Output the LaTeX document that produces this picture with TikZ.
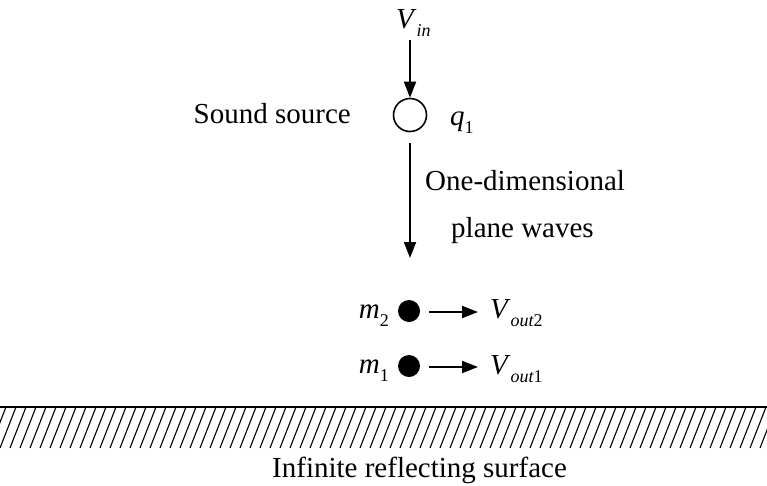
\documentclass[tikz,border=0pt]{standalone}
\usepackage{fontspec}
\setmainfont{Liberation Serif}
\usetikzlibrary{arrows.meta}
\newcommand{\subit}[1]{\raisebox{-0.28em}{\fontsize{18}{18}\selectfont\itshape #1}}
\newcommand{\subrm}[1]{\raisebox{-0.28em}{\fontsize{18}{18}\selectfont #1}}
\begin{document}
\begin{tikzpicture}[x=1pt,y=-1pt,
  lbl/.style={inner sep=0pt,font=\fontsize{29}{32}\selectfont},
  arr/.style={line width=1.8pt,-{Triangle[length=16pt,width=12pt]}},
  hatchline/.style={line width=1.1pt}]
\useasboundingbox (0,0) rectangle (767,485);
% source
\node[lbl,anchor=base west] (vin) at (396,28) {\textit{V}\subit{in}};
\node[draw,circle,line width=1.6pt,minimum size=33pt,inner sep=0pt] (src) at (410,115) {};
\node[lbl,anchor=base east] (ss) at (351,123) {Sound source};
\node[lbl,anchor=base west] (q1) at (450,125) {\textit{q}\subrm{1}};
\coordinate (vinb) at (410,40);
\draw[arr] (vinb) -- (src.north);
\coordinate (wstart) at (410,143);
\coordinate (wend) at (410,258);
\draw[arr] (wstart) -- (wend);
\node[lbl,anchor=base west] (od) at (425,190) {One-dimensional};
\node[lbl,anchor=base west] (pw) at (451,237) {plane waves};
% masses
\node[fill,circle,minimum size=22pt,inner sep=0pt] (m2dot) at (409,311) {};
\node[fill,circle,minimum size=22pt,inner sep=0pt] (m1dot) at (409,366) {};
\node[lbl,anchor=base east] (m2) at (389,318) {\textit{m}\subrm{2}};
\node[lbl,anchor=base east] (m1) at (389,373) {\textit{m}\subrm{1}};
\node[lbl,anchor=base west] (vo2) at (490,318) {\textit{V}\subit{out}\subrm{2}};
\node[lbl,anchor=base west] (vo1) at (490,374) {\textit{V}\subit{out}\subrm{1}};
\coordinate (a2s) at (429,312);
\coordinate (a2e) at (478,312);
\coordinate (a1s) at (429,367);
\coordinate (a1e) at (478,367);
\draw[arr] (a2s) -- (a2e);
\draw[arr] (a1s) -- (a1e);
% surface
\draw[line width=1.5pt] (0,407) -- (767,407);
\begin{scope}
\clip (0,407) rectangle (767,448);
\foreach \i in {-3,...,78} {
  \draw[hatchline] (\i*10,448) -- (\i*10+16,407);
}
\end{scope}
\node[lbl,anchor=base west] (surf) at (272,477) {Infinite reflecting surface};
\end{tikzpicture}
\end{document}
